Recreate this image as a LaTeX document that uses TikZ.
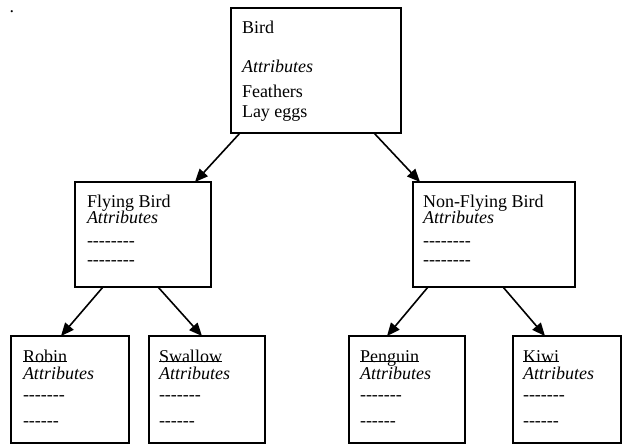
\documentclass[tikz,border=0pt]{standalone}
\usepackage{fontspec}
\setmainfont{Liberation Serif}
\usetikzlibrary{arrows.meta,calc}
\newcommand\hh{\mbox{-}}
\newcommand\ulx[1]{\setbox0\hbox{#1}\rlap{\rule[0pt]{\wd0}{1.1pt}}\box0}
\begin{document}
\begin{tikzpicture}[x=1pt,y=-1pt,
  every node/.style={inner sep=0pt, outer sep=0pt, font=\fontsize{18}{20}\selectfont},
  classbox/.style={draw, line width=2.4pt, rectangle, anchor=north west},
  txt/.style={anchor=base west},
  arr/.style={line width=1.6pt, -{Triangle[length=13pt,width=11pt]}}]
\useasboundingbox (0,0) rectangle (623,445);
% dot
\node[txt] (dot) at (9.5,12) {.};
% boxes
\node[classbox, minimum width=170pt, minimum height=125pt] (bird) at (231,8) {};
\node[classbox, minimum width=136pt, minimum height=105pt] (fly) at (75,182) {};
\node[classbox, minimum width=162pt, minimum height=105pt] (nonfly) at (413,182) {};
\node[classbox, minimum width=118pt, minimum height=107pt] (robin) at (11,336) {};
\node[classbox, minimum width=116pt, minimum height=107pt] (swallow) at (149,336) {};
\node[classbox, minimum width=116pt, minimum height=107pt] (penguin) at (349,336) {};
\node[classbox, minimum width=108pt, minimum height=107pt] (kiwi) at (513,336) {};
% Bird texts
\node[txt] (bird1) at (242,33) {Bird};
\node[txt] (bird2) at (242,72) {\itshape Attributes};
\node[txt] (bird3) at (242,97) {Feathers};
\node[txt] (bird4) at (242,117) {Lay eggs};
% Flying texts
\node[txt] (fly1) at (87,207) {Flying Bird};
\node[txt] (fly2) at (87,223) {\itshape Attributes};
\node[txt] (fly3) at (87,246) {\hh\hh\hh\hh\hh\hh\hh\hh};
\node[txt] (fly4) at (87,265) {\hh\hh\hh\hh\hh\hh\hh\hh};
% Non-flying texts
\node[txt] (nf1) at (423,207) {Non-Flying Bird};
\node[txt] (nf2) at (423,223) {\itshape Attributes};
\node[txt] (nf3) at (423,246) {\hh\hh\hh\hh\hh\hh\hh\hh};
\node[txt] (nf4) at (423,265) {\hh\hh\hh\hh\hh\hh\hh\hh};
% leaf texts
\foreach \b/\x/\n in {robin/23/Robin, swallow/159/Swallow, penguin/360/Penguin, kiwi/523/Kiwi}{
  \node[txt] (\b1) at (\x,362) {\ulx{\n}};
  \node[txt] (\b2) at (\x,379) {\itshape Attributes};
  \node[txt] (\b3) at (\x,400) {\hh\hh\hh\hh\hh\hh\hh};
  \node[txt] (\b4) at (\x,426) {\hh\hh\hh\hh\hh\hh};
}
% connectors
\draw[arr] ($(bird.south west)+(9,0)$) -- ($(fly.north east)+(-16,0)$);
\draw[arr] ($(bird.south east)+(-27,0)$) -- ($(nonfly.north west)+(7,0)$);
\draw[arr] ($(fly.south west)+(28,0)$) -- ($(robin.north west)+(50,0)$);
\draw[arr] ($(fly.south west)+(83,0)$) -- ($(swallow.north west)+(53,0)$);
\draw[arr] ($(nonfly.south west)+(15,0)$) -- ($(penguin.north west)+(38,0)$);
\draw[arr] ($(nonfly.south west)+(90,0)$) -- ($(kiwi.north west)+(32,0)$);
\end{tikzpicture}
\end{document}
